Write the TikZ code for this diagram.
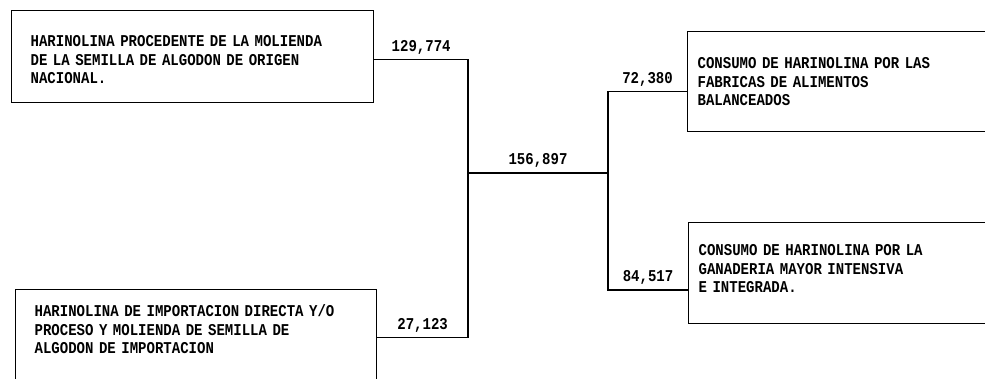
\documentclass[tikz,border=0pt]{standalone}
\usepackage{fontspec}
\newfontfamily\typed[FakeStretch=0.85]{Liberation Mono}
\usetikzlibrary{positioning}

\begin{document}
\begin{tikzpicture}[x=1pt,y=-1pt,
  every node/.style={font=\typed\bfseries\fontsize{16.5}{18.5}\selectfont},
  box/.style={draw,line width=1.3pt,anchor=north west,align=left,inner ysep=0pt},
  qty/.style={midway,above=4pt,inner sep=1pt},
  flow/.style={line width=1.3pt}]
\clip (0,0) rectangle (985,379);
% origen
\node[box,text width=324pt,inner xsep=19pt,minimum height=92pt] (nac) at (11,10)
 {\rule{0pt}{17pt}HARINOLINA PROCEDENTE DE LA MOLIENDA\\DE LA SEMILLA DE ALGODON DE ORIGEN\\NACIONAL.};
\node[box,text width=323pt,inner xsep=19pt,minimum height=96pt] (imp) at (15,289)
 {HARINOLINA DE IMPORTACION DIRECTA Y/O\\PROCESO Y MOLIENDA DE SEMILLA DE\\ALGODON DE IMPORTACION\\[-2pt]\mbox{}};
% destino
\node[box,text width=300pt,inner xsep=10pt,minimum height=100pt] (fab) at (687,31)
 {CONSUMO DE HARINOLINA POR LAS\\FABRICAS DE ALIMENTOS\\BALANCEADOS};
\node[box,text width=300pt,inner xsep=10pt,minimum height=101pt] (gan) at (688,222)
 {CONSUMO DE HARINOLINA POR LA\\GANADERIA MAYOR INTENSIVA\\E INTEGRADA.\\[-10pt]\mbox{}};
% uniones
\coordinate (jl) at (468,173);
\coordinate (jr) at (608,173);
\draw[flow] ([yshift=-3pt]nac.east) -| node[qty,pos=0.25]{129,774} (jl);
\draw[flow] (imp.east) -| node[qty,pos=0.25]{27,123} (jl);
\draw[flow] (jl) -- node[qty]{156,897} (jr);
\draw[flow] (jr) |- node[qty,pos=0.75]{72,380} ([yshift=-10pt]fab.west);
\draw[flow] (jr) |- node[qty,pos=0.75]{84,517} ([yshift=-17pt]gan.west);
\end{tikzpicture}
\end{document}
